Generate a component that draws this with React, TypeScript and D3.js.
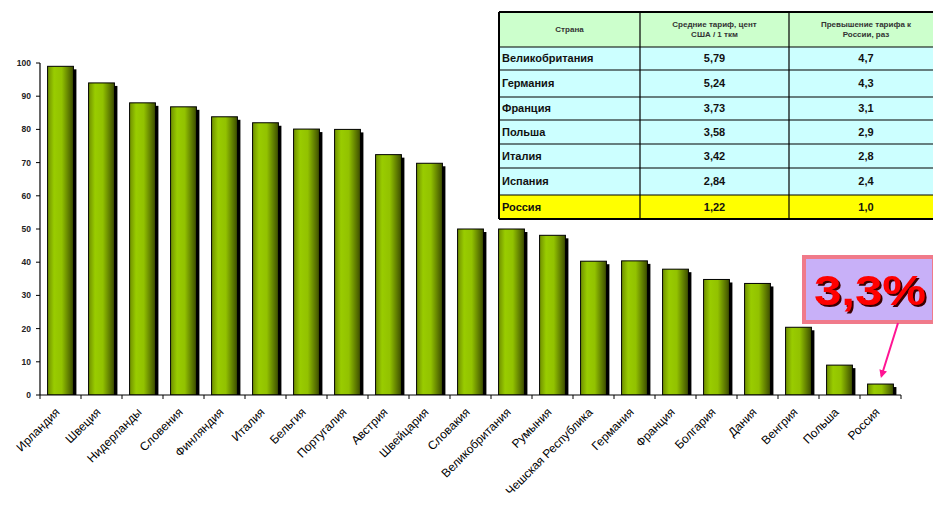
import React from "react";
import * as d3 from "d3";

const categories = [
  "Ирландия", "Швеция", "Нидерланды", "Словения", "Финляндия", "Италия", "Бельгия",
  "Португалия", "Австрия", "Швейцария", "Словакия", "Великобритания", "Румыния",
  "Чешская Республика", "Германия", "Франция", "Болгария", "Дания", "Венгрия", "Польша", "Россия",
];
const values = [99, 94, 88, 86.8, 83.8, 82, 80.1, 80, 72.4, 69.8, 50, 50, 48.1, 40.3, 40.4, 37.9, 34.8, 33.6, 20.4, 9, 3.3];
const yTicks = [0, 10, 20, 30, 40, 50, 60, 70, 80, 90, 100];

const tableHeader = ["Страна", "Средние тариф, цент|США / 1 ткм", "Превышение тарифа к|России, раз"];
const tableCountries = ["Великобритания", "Германия", "Франция", "Польша", "Италия", "Испания", "Россия"];
const tableTariffs = ["5,79", "5,24", "3,73", "3,58", "3,42", "2,84", "1,22"];
const tableRatios = ["4,7", "4,3", "3,1", "2,9", "2,8", "2,4", "1,0"];
const calloutText = "3,3%";

const W = 933;
const H = 509;
const m = { left: 40, right: 32, top: 63, bottom: 114 };

export default function App() {
  const x = d3.scaleBand<string>().domain(categories).range([m.left, 901]).padding(0);
  const y = d3.scaleLinear().domain([0, 100]).range([395, 63]);
  const bw = x.bandwidth() * 0.63;

  const colX = [499, 640, 789, 943];
  const rowY = [12, 47, 70, 97, 120, 144, 168, 195, 219];

  const lastCat = categories[categories.length - 1];
  const arrowEndX = (x(lastCat) as number) + x.bandwidth() / 2 + 1;
  const arrowEndY = y(values[values.length - 1]) - 8;

  return (
    <svg width={W} height={H} style={{ position: "absolute", left: 0, top: 0, background: "#fff" }}
      fontFamily="Arial, 'Liberation Sans', sans-serif">
      <defs>
        <linearGradient id="barGrad" x1="0" x2="1" y1="0" y2="0">
          <stop offset="0%" stopColor="#6f8f00" />
          <stop offset="25%" stopColor="#99cc00" />
          <stop offset="55%" stopColor="#92c200" />
          <stop offset="100%" stopColor="#3c4c00" />
        </linearGradient>
        <clipPath id="plotClip">
          <rect x={m.left} y={0} width={900} height={395} />
        </clipPath>
        <filter id="txtShadow" x="-10%" y="-10%" width="130%" height="130%">
          <feDropShadow dx="2" dy="2" stdDeviation="0.6" floodColor="#3a0000" floodOpacity="1" />
        </filter>
        <marker id="arrowHead" markerWidth="8" markerHeight="8" refX="6" refY="4" orient="auto" markerUnits="userSpaceOnUse">
          <path d="M0,0 L8,4 L0,8 Z" fill="#ff1493" />
        </marker>
      </defs>

      {/* bars */}
      <g clipPath="url(#plotClip)">
        {categories.map((c, i) => {
          const cx = (x(c) as number) + x.bandwidth() / 2;
          const top = y(values[i]);
          return (
            <g key={c}>
              <rect x={cx - bw / 2 + 3} y={top + 3} width={bw} height={395 - top} fill="#000" />
              <rect x={cx - bw / 2} y={top} width={bw} height={395 - top} fill="url(#barGrad)" stroke="#000" strokeWidth={1} />
            </g>
          );
        })}
      </g>

      {/* y axis */}
      <line x1={m.left} x2={m.left} y1={y(100)} y2={395} stroke="#000" strokeWidth={1.2} />
      {yTicks.map((t) => (
        <g key={t}>
          <line x1={m.left - 4} x2={m.left} y1={y(t)} y2={y(t)} stroke="#000" />
          <text x={31} y={y(t)} dy="0.35em" textAnchor="end" fontSize={8.5} fontWeight="bold" fill="#222">{t}</text>
        </g>
      ))}

      {/* x axis */}
      <line x1={m.left} x2={901} y1={395} y2={395} stroke="#000" strokeWidth={1.2} />
      {categories.map((c) => (
        <line key={"t" + c} x1={x(c) as number} x2={x(c) as number} y1={395} y2={399} stroke="#000" />
      ))}
      <line x1={901} x2={901} y1={395} y2={399} stroke="#000" />
      {categories.map((c) => {
        const cx = (x(c) as number) + x.bandwidth() / 2;
        return (
          <text key={"l" + c} transform={`translate(${cx - 3},${410}) rotate(-45)`} textAnchor="end" fontSize={12}
            fill="#000" dy="0.35em">{c}</text>
        );
      })}

      {/* table */}
      <g>
        <rect x={colX[0]} y={rowY[0]} width={colX[3] - colX[0]} height={rowY[1] - rowY[0]} fill="#ccffcc" />
        {tableCountries.map((_, i) => (
          <rect key={"bg" + i} x={colX[0]} y={rowY[i + 1]} width={colX[3] - colX[0]} height={rowY[i + 2] - rowY[i + 1]}
            fill={i === tableCountries.length - 1 ? "#ffff00" : "#ccffff"} />
        ))}
        {rowY.map((ry, i) => (
          <line key={"h" + i} x1={colX[0]} x2={colX[3]} y1={ry} y2={ry} stroke="#000"
            strokeWidth={i === 0 || i === rowY.length - 1 ? 2 : 1.2} />
        ))}
        {colX.map((cx, i) => (
          <line key={"v" + i} x1={cx} x2={cx} y1={rowY[0]} y2={rowY[rowY.length - 1]} stroke="#000"
            strokeWidth={i === 0 ? 2 : 1.2} />
        ))}
        {tableHeader.map((h, i) => {
          const lines = h.split("|");
          const cx = (colX[i] + colX[i + 1]) / 2;
          const cy = (rowY[0] + rowY[1]) / 2;
          return lines.map((ln, j) => (
            <text key={"hd" + i + j} x={cx} y={cy + (j - (lines.length - 1) / 2) * 10} dy="0.35em" textAnchor="middle"
              fontSize={8} fontWeight="bold" fill="#333">{ln}</text>
          ));
        })}
        {tableCountries.map((c, i) => {
          const cy = (rowY[i + 1] + rowY[i + 2]) / 2;
          return (
            <g key={"r" + i}>
              <text x={colX[0] + 3} y={cy} dy="0.35em" fontSize={11} fontWeight="bold" fill="#111">{c}</text>
              <text x={(colX[1] + colX[2]) / 2} y={cy} dy="0.35em" textAnchor="middle" fontSize={11} fontWeight="bold" fill="#111">{tableTariffs[i]}</text>
              <text x={(colX[2] + colX[3]) / 2} y={cy} dy="0.35em" textAnchor="middle" fontSize={11} fontWeight="bold" fill="#111">{tableRatios[i]}</text>
            </g>
          );
        })}
      </g>

      {/* callout */}
      <rect x={804} y={257} width={130} height={65} fill="#c8b0f8" stroke="#f07a8a" strokeWidth={4} />
      <text x={814} y={305} fontSize={42} fontWeight="bold" fill="#ff0000" textLength={112} lengthAdjust="spacingAndGlyphs"
        filter="url(#txtShadow)">{calloutText}</text>
      <line x1={898} y1={323} x2={arrowEndX} y2={arrowEndY} stroke="#ff1493" strokeWidth={2} markerEnd="url(#arrowHead)" />
    </svg>
  );
}
